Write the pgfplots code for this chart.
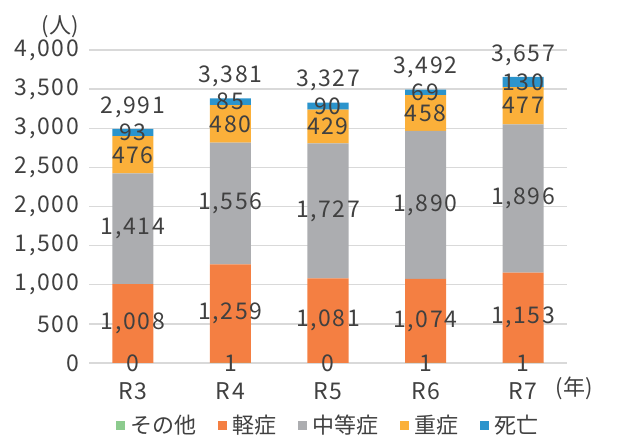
\documentclass[border=0pt]{standalone}
\usepackage{fontspec}
\setmainfont{Noto Sans CJK JP}
\usepackage{pgfplots}
\pgfplotsset{compat=1.18}
\definecolor{cOther}{HTML}{8CCB8E}
\definecolor{cLight}{HTML}{F47F42}
\definecolor{cMod}{HTML}{ACADB0}
\definecolor{cSev}{HTML}{FBB03A}
\definecolor{cDeath}{HTML}{2B94CC}
\definecolor{txt}{HTML}{404040}
\definecolor{gridc}{HTML}{D9D9D9}
\newcommand{\fs}{\fontsize{22bp}{26bp}\selectfont}
\newcommand{\fsn}{\fontsize{23bp}{27bp}\selectfont\addfontfeature{LetterSpace=7}}
\pgfplotsset{
  common/.style={
    at={(89bp,78bp)}, anchor=south west,
    scale only axis, width=478bp, height=313bp,
    xmin=-0.45, xmax=4.45, ymin=0, ymax=4000,
  },
  sq/.style={legend image code/.code={\fill[##1] (0bp,-5bp) rectangle (9bp,4bp);}},
}
\begin{document}
\begin{tikzpicture}[font=\fs, text=txt]
\path[use as bounding box] (0,0) rectangle (618bp,441bp);
\begin{axis}[common,
  ybar stacked, bar width=41bp,
  axis line style={draw=none},
  major tick length=0pt,
  xtick={0,1,2,3,4}, xticklabels={R3,R4,R5,R6,R7},
  ytick={0,500,1000,1500,2000,2500,3000,3500,4000},
  yticklabels={0,500,{1,000},{1,500},{2,000},{2,500},{3,000},{3,500},{4,000}},
  ymajorgrids, grid style={gridc, line width=1.3bp},
  yticklabel style={font=\fsn, text=txt, inner sep=0pt, anchor=east, xshift=-10bp},
  xticklabel style={font=\fsn, text=txt, inner sep=0pt, anchor=base, yshift=-37bp},
  legend columns=5,
  legend style={at={(0.5,-0.198)}, anchor=center, draw=none, fill=none, font=\fs, text=txt,
    /tikz/every odd column/.append style={column sep=4bp},
    /tikz/every even column/.append style={column sep=21bp},
    nodes={inner sep=1bp}},
  legend cell align=left,
]
\addplot[fill=cOther, draw=none, sq] coordinates {(0,0) (1,1) (2,0) (3,1) (4,1)};
\addplot[fill=cLight, draw=none, sq] coordinates {(0,1008) (1,1259) (2,1081) (3,1074) (4,1153)};
\addplot[fill=cMod, draw=none, sq] coordinates {(0,1414) (1,1556) (2,1727) (3,1890) (4,1896)};
\addplot[fill=cSev, draw=none, sq] coordinates {(0,476) (1,480) (2,429) (3,458) (4,477)};
\addplot[fill=cDeath, draw=none, sq] coordinates {(0,93) (1,85) (2,90) (3,69) (4,130)};
\legend{その他,軽症,中等症,重症,死亡}
\end{axis}
\begin{axis}[common, hide axis,
  every node near coord/.style={anchor=center, inner sep=0pt, font=\fsn, text=txt},
  nodes near coords={\pgfplotspointmeta}, point meta=explicit symbolic]
\addplot[only marks, mark=none, draw=none] coordinates {
 (0,0) [0] (1,0) [1] (2,0) [0] (3,0) [1] (4,0) [1]
 (0,504) [1,008] (1,630.5) [1,259] (2,540.5) [1,081] (3,538) [1,074] (4,577.5) [1,153]
 (0,1715) [1,414] (1,2038) [1,556] (2,1944.5) [1,727] (3,2020) [1,890] (4,2102) [1,896]
 (0,2660) [476] (1,3056) [480] (2,3022.5) [429] (3,3194) [458] (4,3288.5) [477]
 (0,2944.5) [93] (1,3338.5) [85] (2,3282) [90] (3,3457.5) [69] (4,3592) [130]
};
\addplot[only marks, mark=none, draw=none, every node near coord/.append style={yshift=22bp}] coordinates {
 (0,2991) [2,991] (1,3381) [3,381] (2,3327) [3,327] (3,3492) [3,492] (4,3657) [3,657]
};
\end{axis}
\node[inner sep=0pt, anchor=center] at (60bp,414bp) {(人)};
\node[inner sep=0pt, anchor=center] at (574bp,53bp) {(年)};
\end{tikzpicture}
\end{document}
